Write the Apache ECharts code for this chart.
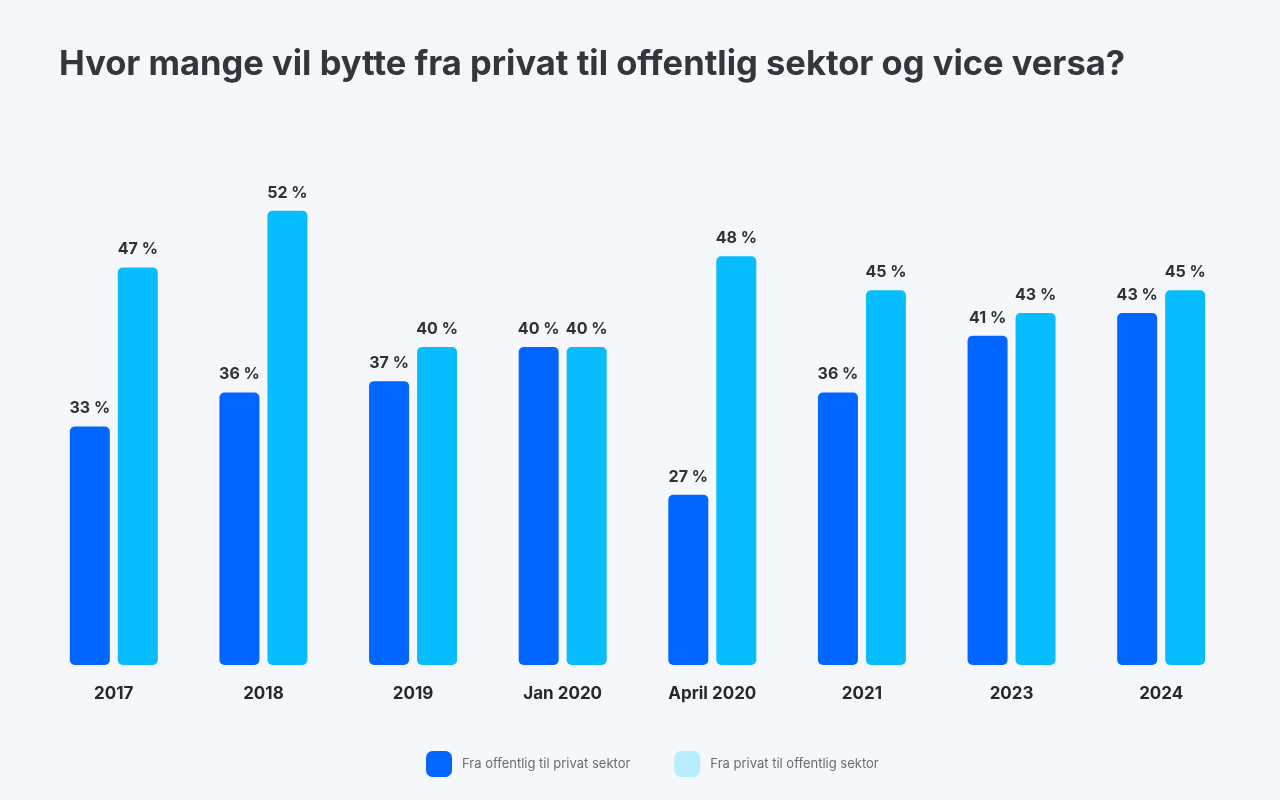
<!DOCTYPE html>
<html><head><meta charset="utf-8">
<script src="https://cdn.jsdelivr.net/npm/echarts@6/dist/echarts.min.js"></script>
<style>html,body{margin:0;padding:0;background:#f5f7fb;}#c{width:1280px;height:800px;}</style>
</head><body><div id="c"></div>
<script>
const categories = ['2017','2018','2019','Jan 2020','April 2020','2021','2023','2024'];
const fraOffentlig = [33,36,37,40,27,36,41,43];
const fraPrivat = [47,52,40,40,48,45,43,45];
const seriesNames = ['Fra offentlig til privat sektor','Fra privat til offentlig sektor'];

const chart = echarts.init(document.getElementById('c'));
const labelStyle = {show:true, position:'top', distance:10, formatter:'{c} %', color:'#2e3138', fontSize:16, fontWeight:'bold', fontFamily:'Inter, sans-serif'};
chart.setOption({
  backgroundColor:'#f5f7fb',
  title:{text:'Hvor mange vil bytte fra privat til offentlig sektor og vice versa?', left:54, top:42,
    textStyle:{fontSize:34.5, fontWeight:'bold', color:'#33363d', fontFamily:'Inter, sans-serif'}},
  grid:{left:39, right:44, top:120, bottom:135, containLabel:false},
  xAxis:{type:'category', data:categories, axisLine:{show:false}, axisTick:{show:false},
    axisLabel:{color:'#26282d', fontSize:17, fontWeight:'bold', margin:20, fontFamily:'Inter, sans-serif'}},
  yAxis:{type:'value', min:12, max:60, show:false, splitLine:{show:false}},
  legend:{bottom:18, left:421, itemWidth:26, itemHeight:26, itemGap:44,
    textStyle:{color:'#686c74', fontSize:13, fontFamily:'Inter, sans-serif', padding:[0,0,0,5]},
    data:[{name:seriesNames[0], itemStyle:{color:'#0066ff'}},{name:seriesNames[1], itemStyle:{color:'#b8ecff'}}],
    icon:'roundRect'},
  series:[
    {name:seriesNames[0], type:'bar', data:fraOffentlig, barWidth:40, barGap:'20%',
     itemStyle:{color:'#0066ff', borderRadius:5}, label:labelStyle},
    {name:seriesNames[1], type:'bar', data:fraPrivat, barWidth:40,
     itemStyle:{color:'#08bdfd', borderRadius:5}, label:labelStyle}
  ]
});
</script></body></html>
